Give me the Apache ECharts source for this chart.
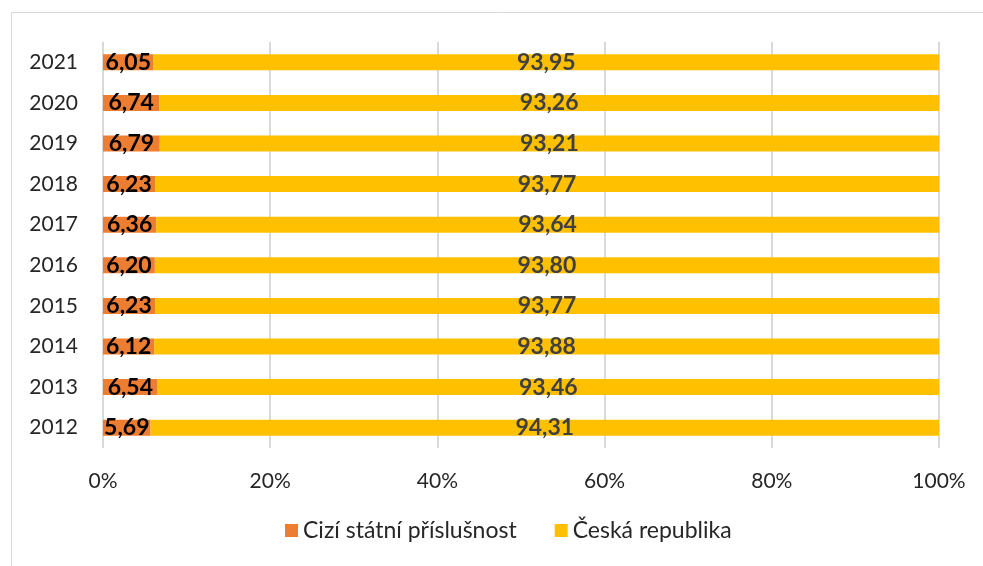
<!DOCTYPE html>
<html>
<head>
<meta charset="utf-8">
<script src="https://cdn.jsdelivr.net/npm/echarts@6/dist/echarts.min.js"></script>
<style>
  html, body { margin: 0; padding: 0; background: #fff; }
  #chart { width: 983px; height: 566px; }
</style>
</head>
<body>
<div id="chart"></div>
<script>
  // kategorie (roky) odspodu nahoru
  var years = ['2012', '2013', '2014', '2015', '2016', '2017', '2018', '2019', '2020', '2021']
  var foreignShare = [5.69, 6.54, 6.12, 6.23, 6.20, 6.36, 6.23, 6.79, 6.74, 6.05]
  var czechShare = [94.31, 93.46, 93.88, 93.77, 93.80, 93.64, 93.77, 93.21, 93.26, 93.95]
  var seriesNames = ['Cizí státní příslušnost', 'Česká republika']

  var fontFamily = 'Lato, "Open Sans", sans-serif'

  function fmt (p) {
    return p.value.toFixed(2).replace('.', ',')
  }

  var option = {
    backgroundColor: '#fff',
    animation: false,
    graphic: [
      {
        type: 'rect',
        shape: { x: 11.5, y: 12.5, width: 990, height: 570 },
        style: { fill: 'none', stroke: '#d9d9d9', lineWidth: 1 }
      }
    ],
    grid: {
      left: 103,
      right: 44,
      top: 42,
      bottom: 118
    },
    legend: {
      bottom: 19,
      left: 280,
      itemWidth: 13,
      itemHeight: 13,
      itemGap: 38,
      icon: 'rect',
      textStyle: {
        fontFamily: fontFamily,
        fontSize: 23,
        color: '#262626'
      },
      data: seriesNames
    },
    xAxis: {
      type: 'value',
      min: 0,
      max: 100,
      interval: 20,
      axisLine: { show: false },
      axisTick: { show: false },
      splitLine: {
        show: true,
        lineStyle: { color: '#d9d9d9', width: 2 }
      },
      axisLabel: {
        formatter: '{value}%',
        margin: 23,
        fontFamily: fontFamily,
        fontSize: 21,
        color: '#262626'
      }
    },
    yAxis: {
      type: 'category',
      data: years,
      axisLine: { show: false },
      axisTick: { show: false },
      axisLabel: {
        margin: 25,
        fontFamily: fontFamily,
        fontSize: 21,
        color: '#262626'
      }
    },
    series: [
      {
        name: seriesNames[0],
        type: 'bar',
        stack: 'total',
        barWidth: 16,
        itemStyle: { color: '#ED7D31' },
        label: {
          show: true,
          position: 'inside',
          formatter: fmt,
          fontFamily: fontFamily,
          fontWeight: 'bold',
          fontSize: 23,
          color: '#000'
        },
        data: foreignShare
      },
      {
        name: seriesNames[1],
        type: 'bar',
        stack: 'total',
        barWidth: 16,
        itemStyle: { color: '#FFC000' },
        label: {
          show: true,
          position: 'inside',
          formatter: fmt,
          fontFamily: fontFamily,
          fontWeight: 'bold',
          fontSize: 23,
          color: '#404040'
        },
        data: czechShare
      }
    ]
  }

  var chart = echarts.init(document.getElementById('chart'))
  chart.setOption(option)
</script>
</body>
</html>
